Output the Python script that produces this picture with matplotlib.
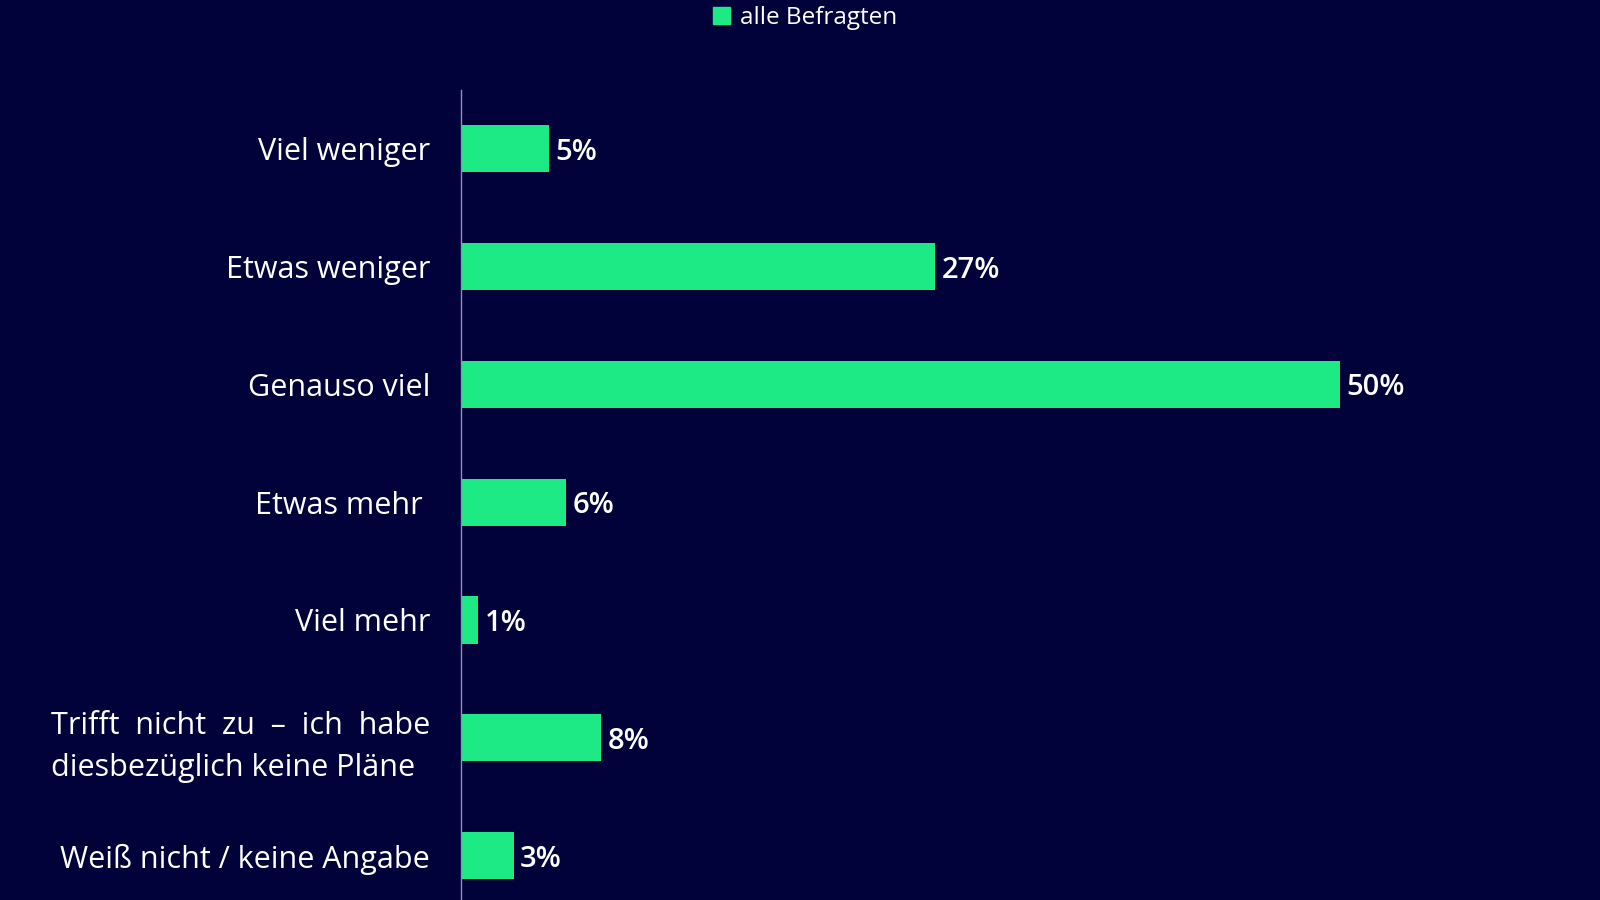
import matplotlib.pyplot as plt
from matplotlib.patches import Patch

# Data
categories = [
    'Viel weniger',
    'Etwas weniger',
    'Genauso viel',
    'Etwas mehr ',
    'Viel mehr',
    'Trifft  nicht  zu  –  ich  habe\ndiesbezüglich keine Pläne',
    'Weiß nicht / keine Angabe',
]
values = [5, 27, 50, 6, 1, 8, 3]
series_name = 'alle Befragten'

bg = '#02023a'
green = '#1de985'

plt.rcParams['font.family'] = ['Open Sans', 'DejaVu Sans']

fig = plt.figure(figsize=(16, 9), dpi=100, facecolor=bg)
ax = fig.add_axes([0.288, -0.016, 0.712, 0.916])
ax.set_facecolor(bg)

pos = list(range(len(categories)))
bars = ax.barh(pos, values, height=0.4, color=green)
ax.set_ylim(len(categories) - 0.5, -0.5)
ax.set_xlim(0, 64.8)

for b, v in zip(bars, values):
    ax.text(b.get_width() + 0.35, b.get_y() + b.get_height() / 2, f'{v}%',
            va='center_baseline', ha='left', color='white', fontsize=21,
            fontweight='semibold')

ax.set_yticks(pos)
ax.set_yticklabels(categories, fontsize=22, color='white', linespacing=1.5)
for lbl in ax.get_yticklabels():
    if '\n' in lbl.get_text():
        lbl.set_multialignment('left')
ax.tick_params(axis='y', length=0, pad=22)
ax.set_xticks([])
for s in ['top', 'right', 'bottom']:
    ax.spines[s].set_visible(False)
ax.spines['left'].set_color('#8c8fc0')
ax.spines['left'].set_linewidth(1)

fig.legend(handles=[Patch(color=green, label=series_name)], loc='upper center',
           bbox_to_anchor=(0.503, 1.018), frameon=False, fontsize=17.5,
           labelcolor='white', handlelength=0.7, handleheight=0.7, handletextpad=0.4)

fig.savefig('out.png', facecolor=bg)
